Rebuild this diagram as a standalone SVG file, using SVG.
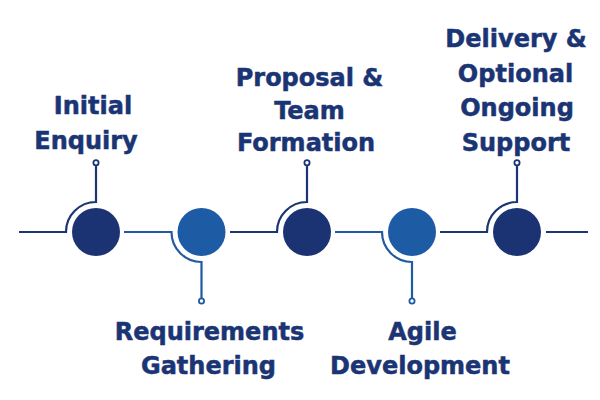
<svg xmlns="http://www.w3.org/2000/svg" width="600" height="400" viewBox="0 0 600 400">
<style>
.t{font-family:"DejaVu Sans","Verdana",sans-serif;font-weight:bold;font-size:24px;fill:#1b3574;stroke:#1b3574;stroke-width:0.5;text-anchor:middle}
.ln{fill:none;stroke-width:2.2}
.d{stroke:#1b3574}
.l{stroke:#1f5aa3}
.dot{fill:#fff;stroke-width:1.8}
.cd{fill:#1b3372}
.cl{fill:#1e5ba5}
</style>
<rect width="600" height="400" fill="#fff"/>
<g id="connectors">
<path class="ln d" d="M19 232 H66 A30 30 0 0 1 96 202 V165.5"/>
<circle class="dot d" cx="96" cy="162.7" r="2.6"/>
<path class="ln l" d="M124 232 H171.5 A30 30 0 0 0 201.5 262 V298.3"/>
<circle class="dot l" cx="201.5" cy="301" r="2.6"/>
<path class="ln d" d="M230 232 H277 A30 30 0 0 1 307 202 V165.5"/>
<circle class="dot d" cx="307" cy="162.7" r="2.6"/>
<path class="ln l" d="M335 232 H382 A30 30 0 0 0 412 262 V298.3"/>
<circle class="dot l" cx="412" cy="301" r="2.6"/>
<path class="ln d" d="M440 232 H487 A30 30 0 0 1 517 202 V165.5"/>
<circle class="dot d" cx="517" cy="162.7" r="2.6"/>
<path class="ln d" d="M546 232 H588"/>
</g>
<g id="node1">
<circle class="cd" cx="96" cy="232" r="24"/>
<text class="t" x="93" y="114">Initial</text>
<text class="t" x="86" y="149">Enquiry</text>
</g>
<g id="node2">
<circle class="cl" cx="201.5" cy="232" r="24"/>
<text class="t" x="209.5" y="340">Requirements</text>
<text class="t" x="208.5" y="374">Gathering</text>
</g>
<g id="node3">
<circle class="cd" cx="307" cy="232" r="24"/>
<text class="t" x="309.5" y="86">Proposal &amp;</text>
<text class="t" x="309.5" y="118.5">Team</text>
<text class="t" x="306" y="151">Formation</text>
</g>
<g id="node4">
<circle class="cl" cx="412" cy="232" r="24"/>
<text class="t" x="422.5" y="340">Agile</text>
<text class="t" x="420" y="374">Development</text>
</g>
<g id="node5">
<circle class="cd" cx="517" cy="232" r="24"/>
<text class="t" x="516" y="47">Delivery &amp;</text>
<text class="t" x="515.5" y="81.5">Optional</text>
<text class="t" x="517" y="116">Ongoing</text>
<text class="t" x="516" y="150.5">Support</text>
</g>
</svg>
